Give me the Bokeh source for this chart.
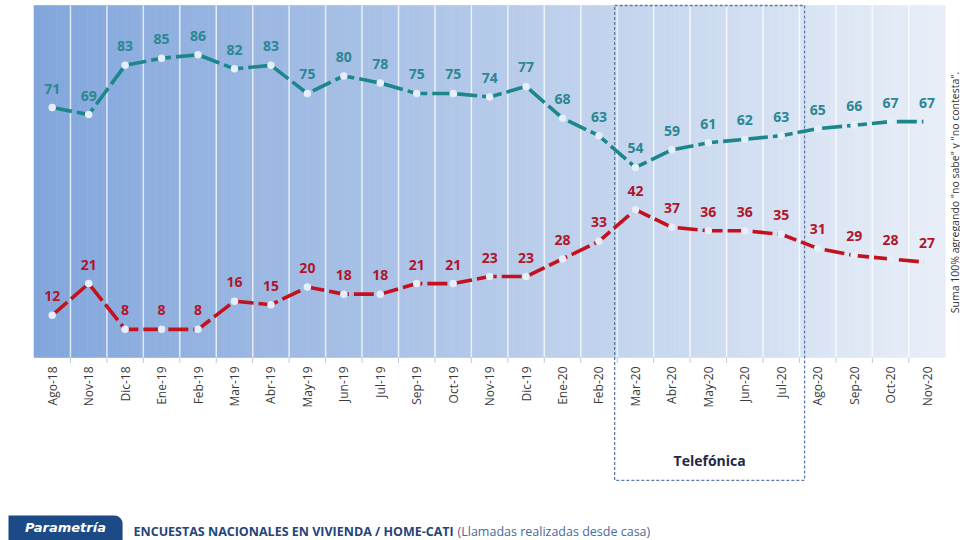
import numpy as np
from bokeh.plotting import figure
from bokeh.models import Range1d, Label, BoxAnnotation
from bokeh.core.properties import value
from bokeh.embed import file_html
from bokeh.resources import INLINE

# ---------------- data ----------------
months = ["Ago-18", "Nov-18", "Dic-18", "Ene-19", "Feb-19", "Mar-19", "Abr-19",
          "May-19", "Jun-19", "Jul-19", "Sep-19", "Oct-19", "Nov-19", "Dic-19",
          "Ene-20", "Feb-20", "Mar-20", "Abr-20", "May-20", "Jun-20", "Jul-20",
          "Ago-20", "Sep-20", "Oct-20", "Nov-20"]
aprueba = [71, 69, 83, 85, 86, 82, 83, 75, 80, 78, 75, 75, 74, 77, 68, 63,
           54, 59, 61, 62, 63, 65, 66, 67, 67]
desaprueba = [12, 21, 8, 8, 8, 16, 15, 20, 18, 18, 21, 21, 23, 23, 28, 33,
              42, 37, 36, 36, 35, 31, 29, 28, 27]
phone_first = "Mar-20"
phone_last = "Jul-20"
phone_label = "Telefónica"
note_text = 'Suma 100% agregando "no sabe" y "no contesta".'
footer_brand = "Parametría"
footer_bold = "ENCUESTAS NACIONALES EN VIVIENDA / HOME-CATI"
footer_light = "(Llamadas realizadas desde casa)"

# ---------------- figure ----------------
idx = list(range(len(months)))
n = len(months)
p = figure(width=960, height=540, output_backend="svg", toolbar_location=None,
           x_range=Range1d(-1.419, 24.918), y_range=Range1d(-51.99, 101.42),
           min_border=0, background_fill_color="white", border_fill_color="white")
p.outline_line_color = None
p.xaxis.visible = False
p.yaxis.visible = False
p.grid.visible = False

# gradient plot background (thin vertical strips)
nx = 120
c0 = np.array([130, 166, 220], dtype=float)
c1 = np.array([233, 239, 248], dtype=float)
lefts, rights, cols = [], [], []
for i in range(nx):
    tt = (i + 0.5) / nx
    c = c0 + (c1 - c0) * tt
    lefts.append(-0.5 + n * i / nx)
    rights.append(-0.5 + n * (i + 1) / nx)
    cols.append("#%02x%02x%02x" % tuple(int(v) for v in c))
p.quad(left=lefts, right=rights, bottom=[0] * nx, top=[100] * nx,
       fill_color=cols, line_color=cols, line_width=0.6)

# vertical separators between months
bounds = [i + 0.5 for i in idx[:-1]]
p.segment(x0=bounds, y0=[0] * len(bounds), x1=bounds, y1=[100] * len(bounds),
          line_color="white", line_alpha=0.75, line_width=1.5)
p.segment(x0=bounds, y0=[0] * len(bounds), x1=bounds, y1=[-1.6] * len(bounds),
          line_color="#c4c8d0", line_width=1)

# telephone-survey period box
i0 = months.index(phone_first)
i1 = months.index(phone_last)
p.quad(left=[i0 - 0.57], right=[i1 + 0.64], top=[100], bottom=[-34.9],
       fill_color=None, line_color="#5a7bab", line_dash="3 2", line_width=1.3)
p.text(x=[(i0 - 0.57 + i1 + 0.64) / 2], y=[-29.3], text=[phone_label],
       text_font=value("Open Sans"), text_font_size="14px", text_font_style="bold",
       text_color="#1d2b45", text_align="center", text_baseline="middle")

# series
teal_line = "#1b878b"
teal_text = "#2a8793"
red_line = "#c3111d"
red_text = "#b0162b"
p.line(idx, aprueba, line_color=teal_line, line_width=3.6, line_dash="20 5")
p.line(idx, desaprueba, line_color=red_line, line_width=3.6, line_dash="20 5")
p.scatter(idx, aprueba, size=7.5, fill_color="#e6eef9", line_color=None)
p.scatter(idx, desaprueba, size=7.5, fill_color="#e6eef9", line_color=None)

p.text(x=idx, y=aprueba, text=[str(v) for v in aprueba],
       text_font=value("Open Sans"), text_font_size="14px", text_font_style="bold",
       text_color=teal_text, text_align="center", text_baseline="middle", y_offset=-19)
p.text(x=idx, y=desaprueba, text=[str(v) for v in desaprueba],
       text_font=value("Open Sans"), text_font_size="14px", text_font_style="bold",
       text_color=red_text, text_align="center", text_baseline="middle", y_offset=-19)

# month tick labels (vertical)
p.text(x=idx, y=[0] * n, text=months, angle=np.pi / 2,
       text_font=value("Open Sans"), text_font_size="12px",
       text_color="#3a3a3a", text_align="right", text_baseline="middle", y_offset=9)

# side note
p.add_layout(Label(x=954, y=348, x_units="screen", y_units="screen", text=note_text,
                   angle=np.pi / 2, text_font="Open Sans", text_font_size="10.5px",
                   text_color="#333333", text_align="center", text_baseline="middle"))

# footer
p.add_layout(BoxAnnotation(left=-1.2, right=1.93, top=-44.9, bottom=-55,
                           fill_color="#1c4a86", fill_alpha=1, line_color=None,
                           border_radius=(0, 8, 0, 0)))
p.add_layout(Label(x=0.364, y=-48.3, text=footer_brand, text_font="DejaVu Sans",
                   text_font_size="13px", text_font_style="bold italic",
                   text_color="white", text_align="center", text_baseline="middle"))
p.add_layout(Label(x=2.23, y=-49.43, text=footer_bold, text_font="Open Sans",
                   text_font_size="12.5px", text_font_style="bold",
                   text_color="#23457a", text_align="left", text_baseline="alphabetic"))
p.add_layout(Label(x=11.12, y=-49.43, text=footer_light, text_font="Open Sans",
                   text_font_size="12.5px", text_color="#4a6a98",
                   text_align="left", text_baseline="alphabetic"))

open("out.html", "w").write(file_html(p, INLINE))
